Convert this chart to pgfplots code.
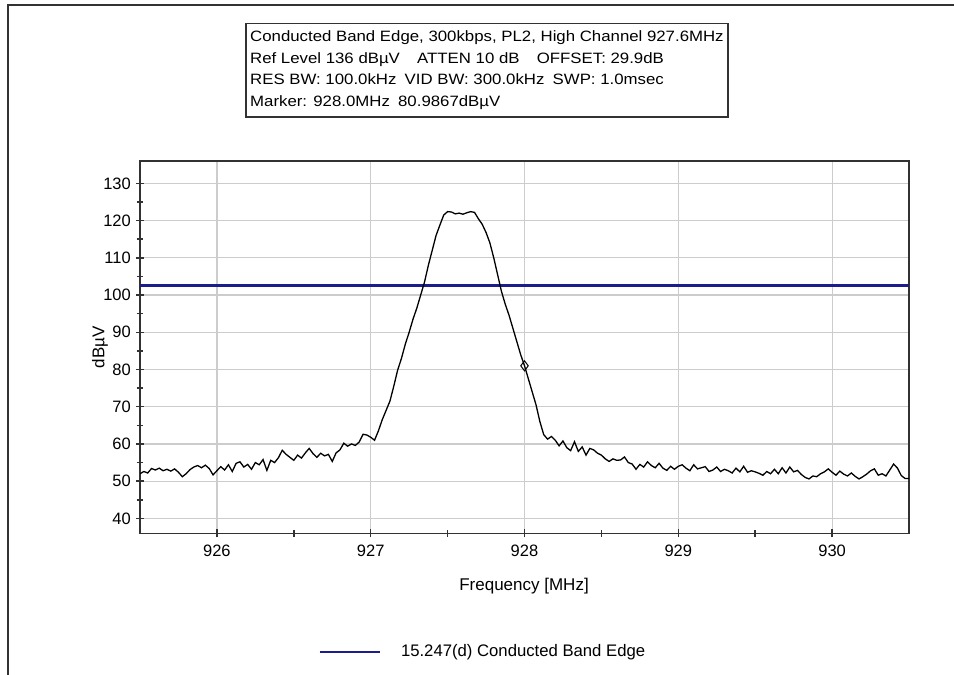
\documentclass[border=0pt]{standalone}
\usepackage{fontspec}
\setmainfont{Liberation Sans}
\newfontfamily\boxfont{Liberation Sans}[FakeStretch=1.12]
\usepackage{pgfplots}
\pgfplotsset{compat=1.18}
\definecolor{limblue}{RGB}{28,28,140}
\definecolor{frame}{RGB}{50,50,50}
\begin{document}
\begin{tikzpicture}[x=1pt,y=1pt]
\useasboundingbox (0,0) rectangle (954,675);
\draw[frame, line width=2pt] (7.5,0) -- (7.5,669.5) -- (954,669.5);
\draw[frame, line width=1.5pt] (246,651.7) rectangle (728,557.9);
\boxfont\fontsize{15}{18}\selectfont
\node[anchor=base west, inner sep=0pt] at (250,633) {Conducted Band Edge, 300kbps, PL2, High Channel 927.6MHz};
\node[anchor=base west, inner sep=0pt] at (250,611.5) {Ref Level 136 dBµV\hspace{1.15em}ATTEN 10 dB\hspace{1.15em}OFFSET: 29.9dB};
\node[anchor=base west, inner sep=0pt] at (250,590) {RES BW: 100.0kHz\hspace{0.55em}VID BW: 300.0kHz\hspace{0.55em}SWP: 1.0msec};
\node[anchor=base west, inner sep=0pt] at (250,568.5) {Marker: 928.0MHz\hspace{0.55em}80.9867dBµV};
\normalfont
\begin{axis}[
  at={(140pt,141.7pt)}, anchor=south west,
  width=769pt, height=372.3pt, scale only axis,
  xmin=925.5, xmax=930.5, ymin=36, ymax=136,
  xtick={926,927,928,929,930}, ytick={40,50,...,130},
  minor x tick num=1, minor y tick num=1,
  xtick pos=bottom, ytick pos=left,
  tick align=center,
  major tick length=8pt, minor tick length=7pt,
  tick style={line width=1.5pt, color=frame},
  xmajorgrids, ymajorgrids,
  major grid style={line width=1.2pt, color=black!20},
  axis line style={line width=1.5pt, color=frame},
  /pgf/number format/assume math mode=true,
  /pgf/number format/1000 sep={},
  ticklabel style={font=\fontsize{16.5}{19}\selectfont},
  xticklabel style={yshift=-2pt},
  xlabel={Frequency [MHz]}, ylabel={dBµV},
  label style={font=\fontsize{17}{20}\selectfont},
  xlabel style={at={(axis description cs:0.4994,-0.1416)}, anchor=center},
  ylabel style={at={(axis description cs:-0.052,0.5)}, anchor=center},
  legend style={at={(axis description cs:0.2315,-0.319)}, anchor=west, draw=none, fill=none, inner sep=0pt, font=\fontsize{16.7}{19}\selectfont},
  legend cell align=left,
  legend image code/.code={\draw[#1] (0pt,0pt) -- (60pt,0pt);},
]
\addplot[limblue, line width=2.8pt] coordinates {(925.5,102.6) (930.5,102.6)};
\addlegendentry{\hspace{18pt}15.247(d) Conducted Band Edge}
\addplot[black, line width=1.3pt, forget plot] table {
925.500 52.0
925.525 52.6
925.550 52.2
925.575 53.4
925.600 53.0
925.625 53.5
925.650 52.8
925.675 53.2
925.700 52.7
925.725 53.3
925.750 52.4
925.775 51.2
925.800 52.0
925.825 53.1
925.850 53.8
925.875 54.2
925.900 53.6
925.925 54.3
925.950 53.4
925.975 51.7
926.000 52.8
926.025 53.9
926.050 53.0
926.075 54.4
926.100 52.6
926.125 54.8
926.150 55.2
926.175 53.8
926.200 54.5
926.225 53.2
926.250 55.0
926.275 54.4
926.300 55.8
926.325 52.9
926.350 55.6
926.375 55.0
926.400 56.3
926.425 58.3
926.450 57.2
926.475 56.4
926.500 55.6
926.525 57.0
926.550 56.2
926.575 57.6
926.600 58.8
926.625 57.4
926.650 56.4
926.675 57.5
926.700 56.8
926.725 57.2
926.750 55.3
926.775 57.6
926.800 58.4
926.825 60.2
926.850 59.4
926.875 60.0
926.900 59.6
926.925 60.5
926.950 62.6
926.975 62.4
927.000 61.8
927.025 61.0
927.050 63.5
927.075 66.5
927.100 69.0
927.125 71.5
927.150 75.5
927.175 79.8
927.200 83.0
927.225 86.8
927.250 90.0
927.275 93.5
927.300 96.5
927.325 100.0
927.350 103.5
927.375 108.0
927.400 112.0
927.425 116.0
927.450 118.8
927.475 121.5
927.500 122.4
927.525 122.3
927.550 121.8
927.575 122.0
927.600 121.7
927.625 122.1
927.650 122.4
927.675 122.2
927.700 120.5
927.725 119.0
927.750 116.8
927.775 114.0
927.800 110.0
927.825 105.5
927.850 101.0
927.875 97.5
927.900 94.5
927.925 91.0
927.950 87.5
927.975 84.0
928.000 81.0
928.025 77.5
928.050 74.0
928.075 70.5
928.100 66.0
928.125 62.5
928.150 61.3
928.175 62.0
928.200 61.0
928.225 59.5
928.250 60.8
928.275 59.0
928.300 58.2
928.325 60.6
928.350 58.0
928.375 59.2
928.400 57.0
928.425 58.8
928.450 58.4
928.475 57.5
928.500 57.0
928.525 56.0
928.550 55.3
928.575 56.0
928.600 55.6
928.625 55.7
928.650 56.5
928.675 55.0
928.700 54.6
928.725 53.2
928.750 54.5
928.775 53.8
928.800 55.2
928.825 54.2
928.850 53.6
928.875 54.8
928.900 53.5
928.925 52.9
928.950 54.0
928.975 53.2
929.000 54.0
929.025 54.4
929.050 53.5
929.075 52.8
929.100 54.4
929.125 53.3
929.150 53.6
929.175 53.9
929.200 52.6
929.225 53.0
929.250 53.8
929.275 52.6
929.300 53.2
929.325 52.8
929.350 52.2
929.375 53.5
929.400 52.5
929.425 54.0
929.450 52.4
929.475 52.8
929.500 52.5
929.525 52.1
929.550 51.6
929.575 52.6
929.600 52.0
929.625 53.2
929.650 52.0
929.675 53.6
929.700 52.2
929.725 53.8
929.750 52.5
929.775 52.9
929.800 51.8
929.825 51.0
929.850 50.6
929.875 51.4
929.900 51.2
929.925 52.0
929.950 52.5
929.975 53.3
930.000 52.4
930.025 51.6
930.050 52.7
930.075 51.9
930.100 51.4
930.125 52.2
930.150 51.3
930.175 50.6
930.200 51.2
930.225 51.9
930.250 52.8
930.275 53.3
930.300 51.6
930.325 52.0
930.350 51.4
930.375 53.0
930.400 54.6
930.425 53.5
930.450 51.5
930.475 50.7
930.500 50.7
};
\addplot[black, line width=1pt, only marks, mark=diamond, mark size=5pt, mark options={fill=white}, forget plot] coordinates {(928.0,80.9867)};
\end{axis}
\end{tikzpicture}
\end{document}
